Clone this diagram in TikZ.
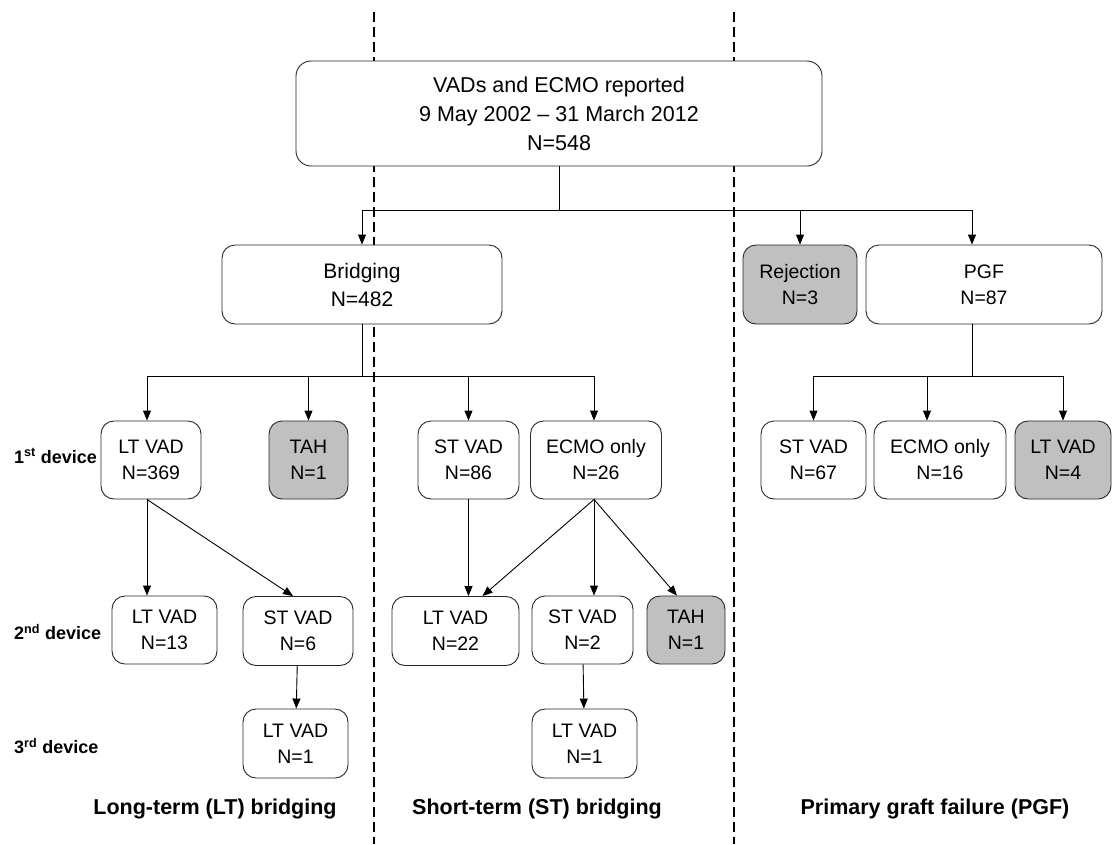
\documentclass[tikz,border=0pt]{standalone}
\usepackage{fontspec}
\setmainfont{Liberation Sans}
\usetikzlibrary{arrows.meta,calc}
\definecolor{boxgrey}{HTML}{C0C0C0}

\begin{document}
\begin{tikzpicture}[x=1pt,y=-1pt,
	box/.style={draw=black!85,fill=white,rounded corners=13pt,align=center,inner sep=0pt,line width=0.9pt,font=\fontsize{19.5}{26}\selectfont},
	grey/.style={box,fill=boxgrey},
	sz/.style 2 args={minimum width=#1pt,minimum height=#2pt},
	conn/.style={line width=0.9pt},
	arr/.style={conn,-{Triangle[length=10pt,width=8pt]}},
	divider/.style={line width=2pt,dash pattern=on 10pt off 5pt},
	lbl/.style={anchor=west,inner sep=0pt,font=\bfseries\fontsize{18}{20}\selectfont},
	part/.style={inner sep=0pt,font=\bfseries\fontsize{21.5}{24}\selectfont}]
		\useasboundingbox (0,0) rectangle (1113,844);
		% column dividers
		\draw[divider] (374,12) -- (374,844);
		\draw[divider] (734,12) -- (734,844);
		\node[box,sz={526}{105},rounded corners=15pt,font=\fontsize{21.5}{29}\selectfont] (VADs) at (559,113.5) {VADs and ECMO reported\\9 May 2002 – 31 March 2012\\N=548};
		\node[box,sz={280}{79},font=\fontsize{21}{28}\selectfont] (Brdg) at (362,284.5) {Bridging\\N=482};
		\node[grey,sz={114}{79}] (Rej) at (800,284.5) {Rejection\\N=3};
		\node[box,sz={236}{79}] (PGF) at (984,284.5) {PGF\\N=87};
		% 1st device
		\node[box,sz={100}{78}] (LTa) at (151,460) {LT VAD\\N=369};
		\node[grey,sz={79}{78}] (TAHa) at (308.5,460) {TAH\\N=1};
		\node[box,sz={101}{78}] (STa) at (468.5,460) {ST VAD\\N=86};
		\node[box,sz={131}{78}] (ECa) at (596,460) {ECMO only\\N=26};
		\node[box,sz={105}{78}] (PgfST) at (813.5,460) {ST VAD\\N=67};
		\node[box,sz={132}{78}] (PgfECMO) at (940,460) {ECMO only\\N=16};
		\node[grey,sz={96}{78}] (PgfLT) at (1063,460) {LT VAD\\N=4};
		% 2nd device
		\node[box,sz={105}{68}] (LTb) at (164.5,630) {LT VAD\\N=13};
		\node[box,sz={110}{69}] (STb) at (298,631) {ST VAD\\N=6};
		\node[box,sz={127}{69}] (LTc) at (455.5,631) {LT VAD\\N=22};
		\node[box,sz={101}{68}] (STc) at (582.5,630) {ST VAD\\N=2};
		\node[grey,sz={78}{68}] (TAHc) at (686,630) {TAH\\N=1};
		% 3rd device
		\node[box,sz={105}{69}] (LTd) at (295.5,743.5) {LT VAD\\N=1};
		\node[box,sz={105}{69}] (LTe) at (584.5,743.5) {LT VAD\\N=1};
		% row and column labels
		\node[lbl] (Dev1) at (14,456) {1\textsuperscript{st} device};
		\node[lbl] (Dev2) at (14,632) {2\textsuperscript{nd} device};
		\node[lbl] (Dev3) at (14,746) {3\textsuperscript{rd} device};
		\node[part] (LTBr) at (215,809) {Long-term (LT) bridging};
		\node[part] (STBr) at (537,809) {Short-term (ST) bridging};
		\node[part] (PGFail) at (935,809) {Primary graft failure (PGF)};
		% splits
		\coordinate (TopSplit) at (559,210);
		\coordinate (BrSplit) at (362,376);
		\coordinate (PgfSplit) at (972,376);
		\draw[conn] (VADs) -- (TopSplit);
		\draw[arr] (TopSplit) -| (Brdg);
		\draw[arr] (TopSplit) -| (Rej);
		\draw[arr] (TopSplit) -| ([xshift=-12pt]PGF.north);
		\draw[conn] (Brdg) -- (BrSplit);
		\draw[arr] (BrSplit) -| ([xshift=-4pt]LTa.north);
		\draw[arr] (BrSplit) -| (TAHa);
		\draw[arr] (BrSplit) -| (STa);
		\draw[arr] (BrSplit) -| ([xshift=-2pt]ECa.north);
		\draw[conn] ([xshift=-12pt]PGF.south) -- (PgfSplit);
		\draw[arr] (PgfSplit) -| (PgfST);
		\draw[arr] (PgfSplit) -| ([xshift=-13pt]PgfECMO.north);
		\draw[arr] (PgfSplit) -| (PgfLT);
		% later devices
		\draw[arr] ([xshift=-4pt]LTa.south) -- ([xshift=-4pt]LTa.south |- LTb.north);
		\draw[arr] ([xshift=-4pt]LTa.south) -- ([xshift=-5pt]STb.north);
		\draw[arr] (STb) -- (LTd);
		\draw[arr] (STa.south) -- (STa.south |- LTc.north);
		\draw[arr] ([xshift=-2pt]ECa.south) -- ([xshift=27pt]LTc.north);
		\draw[arr] ([xshift=-2pt]ECa.south) -- ([xshift=-2pt]ECa.south |- STc.north);
		\draw[arr] ([xshift=-2pt]ECa.south) -- ([xshift=-9pt]TAHc.north);
		\draw[arr] (STc) -- (LTe);
	\end{tikzpicture}
\end{document}
